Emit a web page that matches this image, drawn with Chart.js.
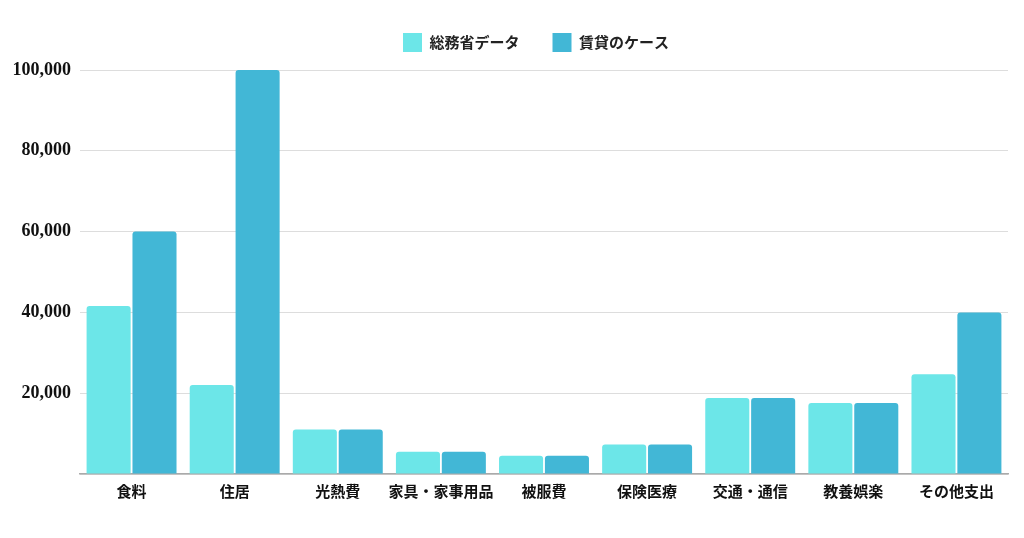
<!DOCTYPE html>
<html>
<head>
<meta charset="utf-8">
<script src="https://cdn.jsdelivr.net/npm/chart.js@4"></script>
<style>
  html, body { margin: 0; padding: 0; background: #fff; }
  #wrap { width: 1024px; height: 538px; }
</style>
</head>
<body>
<div id="wrap"><canvas id="budgetChart"></canvas></div>
<script>
const categories = ['食料', '住居', '光熱費', '家具・家事用品', '被服費', '保険医療', '交通・通信', '教養娯楽', 'その他支出'];
const statsData = [41600, 22000, 11000, 5500, 4500, 7300, 18800, 17600, 24700];
const rentData = [60000, 100000, 11000, 5500, 4500, 7300, 18800, 17600, 40000];
const seriesNames = ['総務省データ', '賃貸のケース'];

const jpFont = "'Noto Sans CJK JP', sans-serif";
const numFont = "'Liberation Serif', 'DejaVu Serif', serif";

// legend: fixed height so the plot starts at the right spot, and nudge it right a bit
const legendTweak = {
    id: 'legendTweak',
    beforeInit(chart) {
        const legend = chart.legend;
        if (!legend) return;
        const origFit = legend.fit;
        legend.fit = function () {
            origFit.call(this);
            this.height = 70;
        };
    },
    afterLayout(chart) {
        if (chart.legend) chart.legend.left += 64;
    }
};

const ctx = document.getElementById('budgetChart').getContext('2d');
const budgetChart = new Chart(ctx, {
    type: 'bar',
    data: {
        labels: categories,
        datasets: [{
            label: seriesNames[0],
            data: statsData,
            backgroundColor: '#6ce6e8',
            borderRadius: 3,
            categoryPercentage: 0.89,
            barPercentage: 0.96
        }, {
            label: seriesNames[1],
            data: rentData,
            backgroundColor: '#42b7d6',
            borderRadius: 3,
            categoryPercentage: 0.89,
            barPercentage: 0.96
        }]
    },
    options: {
        responsive: true,
        maintainAspectRatio: false,
        animation: false,
        layout: {
            padding: { top: 0, right: 16, bottom: 0, left: 0 }
        },
        plugins: {
            tooltip: { enabled: false },
            legend: {
                position: 'top',
                labels: {
                    boxWidth: 19,
                    boxHeight: 19,
                    padding: 33,
                    color: '#222',
                    font: { family: jpFont, size: 15, weight: 'bold' }
                }
            }
        },
        scales: {
            x: {
                grid: { display: false, drawTicks: false },
                border: { display: true, color: '#aaaaaa', width: 1.5 },
                ticks: {
                    color: '#111',
                    padding: 8,
                    maxRotation: 0,
                    autoSkip: false,
                    font: { family: jpFont, size: 15, weight: 'bold' }
                },
                afterFit: (scale) => { scale.height = 64; }
            },
            y: {
                min: 0,
                max: 100000,
                border: { display: false },
                grid: { color: '#dddddd', lineWidth: 1, drawTicks: false },
                ticks: {
                    stepSize: 20000,
                    color: '#111',
                    padding: 9,
                    font: { family: numFont, size: 18, weight: 'bold' },
                    callback: (value) => value === 0 ? '' : value.toLocaleString('en-US')
                },
                afterFit: (scale) => { scale.width = 80; }
            }
        }
    },
    plugins: [legendTweak]
});
</script>
</body>
</html>
